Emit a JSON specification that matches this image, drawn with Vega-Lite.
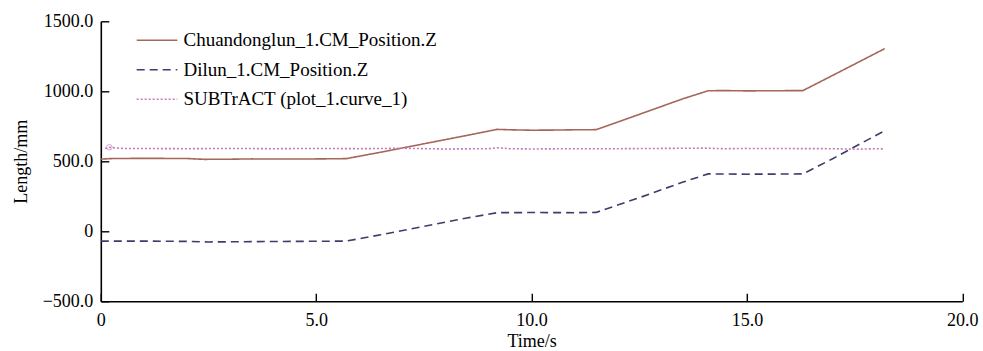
{
  "$schema": "https://vega.github.io/schema/vega-lite/v6.json",
  "autosize": {"type": "none"},
  "width": 861.5,
  "height": 280,
  "padding": {"left": 100.8, "top": 21.3, "right": 20.7, "bottom": 49.7},
  "background": "white",
  "config": {
    "view": {"stroke": null},
    "font": "Liberation Serif",
    "axis": {
      "domainColor": "black",
      "domainWidth": 1.6,
      "tickColor": "black",
      "tickWidth": 1.4,
      "grid": false,
      "labelFlush": false,
      "labelFont": "Liberation Serif",
      "labelFontSize": 18,
      "labelColor": "black",
      "titleFont": "Liberation Serif",
      "titleFontSize": 18,
      "titleFontWeight": "normal",
      "titleColor": "black"
    }
  },
  "datasets": {
    "curves": [
      {"series": "Chuandonglun_1.CM_Position.Z", "t": 0, "v": 516},
      {"series": "Chuandonglun_1.CM_Position.Z", "t": 0.3, "v": 520},
      {"series": "Chuandonglun_1.CM_Position.Z", "t": 1, "v": 521},
      {"series": "Chuandonglun_1.CM_Position.Z", "t": 2, "v": 520},
      {"series": "Chuandonglun_1.CM_Position.Z", "t": 2.4, "v": 514},
      {"series": "Chuandonglun_1.CM_Position.Z", "t": 3, "v": 515},
      {"series": "Chuandonglun_1.CM_Position.Z", "t": 3.5, "v": 517},
      {"series": "Chuandonglun_1.CM_Position.Z", "t": 4.5, "v": 516},
      {"series": "Chuandonglun_1.CM_Position.Z", "t": 5, "v": 517},
      {"series": "Chuandonglun_1.CM_Position.Z", "t": 5.7, "v": 519},
      {"series": "Chuandonglun_1.CM_Position.Z", "t": 6.5, "v": 565},
      {"series": "Chuandonglun_1.CM_Position.Z", "t": 7.5, "v": 625},
      {"series": "Chuandonglun_1.CM_Position.Z", "t": 8.5, "v": 685},
      {"series": "Chuandonglun_1.CM_Position.Z", "t": 9.2, "v": 728},
      {"series": "Chuandonglun_1.CM_Position.Z", "t": 9.5, "v": 725},
      {"series": "Chuandonglun_1.CM_Position.Z", "t": 10, "v": 722},
      {"series": "Chuandonglun_1.CM_Position.Z", "t": 10.5, "v": 723},
      {"series": "Chuandonglun_1.CM_Position.Z", "t": 11, "v": 725},
      {"series": "Chuandonglun_1.CM_Position.Z", "t": 11.5, "v": 726},
      {"series": "Chuandonglun_1.CM_Position.Z", "t": 12.5, "v": 835},
      {"series": "Chuandonglun_1.CM_Position.Z", "t": 13.5, "v": 945},
      {"series": "Chuandonglun_1.CM_Position.Z", "t": 14.1, "v": 1004},
      {"series": "Chuandonglun_1.CM_Position.Z", "t": 14.5, "v": 1005},
      {"series": "Chuandonglun_1.CM_Position.Z", "t": 15, "v": 1003},
      {"series": "Chuandonglun_1.CM_Position.Z", "t": 15.5, "v": 1004},
      {"series": "Chuandonglun_1.CM_Position.Z", "t": 16.3, "v": 1005},
      {"series": "Chuandonglun_1.CM_Position.Z", "t": 17, "v": 1115},
      {"series": "Chuandonglun_1.CM_Position.Z", "t": 17.6, "v": 1210},
      {"series": "Chuandonglun_1.CM_Position.Z", "t": 18.2, "v": 1305},
      {"series": "Dilun_1.CM_Position.Z", "t": 0, "v": -70},
      {"series": "Dilun_1.CM_Position.Z", "t": 1, "v": -70},
      {"series": "Dilun_1.CM_Position.Z", "t": 2, "v": -72},
      {"series": "Dilun_1.CM_Position.Z", "t": 2.5, "v": -76},
      {"series": "Dilun_1.CM_Position.Z", "t": 3.5, "v": -74},
      {"series": "Dilun_1.CM_Position.Z", "t": 4.5, "v": -72},
      {"series": "Dilun_1.CM_Position.Z", "t": 5.7, "v": -70},
      {"series": "Dilun_1.CM_Position.Z", "t": 6.5, "v": -25},
      {"series": "Dilun_1.CM_Position.Z", "t": 7.5, "v": 35},
      {"series": "Dilun_1.CM_Position.Z", "t": 8.5, "v": 95},
      {"series": "Dilun_1.CM_Position.Z", "t": 9.2, "v": 133},
      {"series": "Dilun_1.CM_Position.Z", "t": 10, "v": 134},
      {"series": "Dilun_1.CM_Position.Z", "t": 11, "v": 133},
      {"series": "Dilun_1.CM_Position.Z", "t": 11.5, "v": 135},
      {"series": "Dilun_1.CM_Position.Z", "t": 12.5, "v": 240},
      {"series": "Dilun_1.CM_Position.Z", "t": 13.5, "v": 350},
      {"series": "Dilun_1.CM_Position.Z", "t": 14.1, "v": 410},
      {"series": "Dilun_1.CM_Position.Z", "t": 15, "v": 408},
      {"series": "Dilun_1.CM_Position.Z", "t": 16, "v": 409},
      {"series": "Dilun_1.CM_Position.Z", "t": 16.3, "v": 410},
      {"series": "Dilun_1.CM_Position.Z", "t": 17, "v": 520},
      {"series": "Dilun_1.CM_Position.Z", "t": 17.6, "v": 620},
      {"series": "Dilun_1.CM_Position.Z", "t": 18.2, "v": 718},
      {"series": "SUBTrACT (plot_1.curve_1)", "t": 0.1, "v": 592},
      {"series": "SUBTrACT (plot_1.curve_1)", "t": 0.2, "v": 600},
      {"series": "SUBTrACT (plot_1.curve_1)", "t": 0.5, "v": 592},
      {"series": "SUBTrACT (plot_1.curve_1)", "t": 2, "v": 590},
      {"series": "SUBTrACT (plot_1.curve_1)", "t": 3, "v": 592},
      {"series": "SUBTrACT (plot_1.curve_1)", "t": 4, "v": 590},
      {"series": "SUBTrACT (plot_1.curve_1)", "t": 5, "v": 592},
      {"series": "SUBTrACT (plot_1.curve_1)", "t": 6, "v": 590},
      {"series": "SUBTrACT (plot_1.curve_1)", "t": 7, "v": 593},
      {"series": "SUBTrACT (plot_1.curve_1)", "t": 8, "v": 588},
      {"series": "SUBTrACT (plot_1.curve_1)", "t": 9, "v": 590},
      {"series": "SUBTrACT (plot_1.curve_1)", "t": 9.2, "v": 597},
      {"series": "SUBTrACT (plot_1.curve_1)", "t": 9.5, "v": 590},
      {"series": "SUBTrACT (plot_1.curve_1)", "t": 10, "v": 588},
      {"series": "SUBTrACT (plot_1.curve_1)", "t": 11, "v": 590},
      {"series": "SUBTrACT (plot_1.curve_1)", "t": 12, "v": 590},
      {"series": "SUBTrACT (plot_1.curve_1)", "t": 13, "v": 592},
      {"series": "SUBTrACT (plot_1.curve_1)", "t": 14, "v": 594},
      {"series": "SUBTrACT (plot_1.curve_1)", "t": 14.5, "v": 590},
      {"series": "SUBTrACT (plot_1.curve_1)", "t": 15, "v": 592},
      {"series": "SUBTrACT (plot_1.curve_1)", "t": 16, "v": 591},
      {"series": "SUBTrACT (plot_1.curve_1)", "t": 17, "v": 590},
      {"series": "SUBTrACT (plot_1.curve_1)", "t": 17.5, "v": 586},
      {"series": "SUBTrACT (plot_1.curve_1)", "t": 18, "v": 590},
      {"series": "SUBTrACT (plot_1.curve_1)", "t": 18.2, "v": 588}
    ]
  },
  "layer": [
    {
      "mark": {"type": "rule", "color": "#b0b0b0", "strokeWidth": 1.2},
      "encoding": {"y": {"datum": 0, "type": "quantitative", "scale": {"domain": [-500, 1500]}}}
    },
    {
      "mark": {"type": "rule", "color": "#c8c8c8", "strokeWidth": 1.5},
      "encoding": {"x": {"datum": 0.2, "type": "quantitative", "scale": {"domain": [0, 20]}}}
    },
    {
      "data": {"name": "curves"},
      "mark": {"type": "line", "strokeWidth": 1.6, "clip": true},
      "encoding": {
        "x": {
          "field": "t", "type": "quantitative",
          "scale": {"domain": [0, 20], "nice": false, "zero": false},
          "axis": {
            "title": "Time/s", "values": [0, 5, 10, 15, 20],
            "labelExpr": "datum.value == 0 ? '0' : format(datum.value, '.1f')",
            "tickSize": -8, "labelPadding": 18, "titlePadding": 3
          }
        },
        "y": {
          "field": "v", "type": "quantitative",
          "scale": {"domain": [-500, 1500], "nice": false, "zero": false},
          "axis": {
            "title": "Length/mm", "values": [-500, 0, 500, 1000, 1500],
            "labelExpr": "datum.value == 0 ? '0' : format(datum.value, '.1f')",
            "tickSize": -8, "labelPadding": 16, "titlePadding": 12
          }
        },
        "color": {
          "field": "series", "type": "nominal",
          "scale": {
            "domain": ["Chuandonglun_1.CM_Position.Z", "Dilun_1.CM_Position.Z", "SUBTrACT (plot_1.curve_1)"],
            "range": ["#a5665c", "#3d3d6b", "#c27ab8"]
          },
          "legend": {
            "title": null, "orient": "none", "legendX": 40.7, "legendY": 3.5,
            "padding": 0, "rowPadding": 3.5, "symbolType": "M-1.4,0H1.4",
            "symbolSize": 841, "symbolStrokeWidth": 1.6, "labelOffset": 11,
            "labelFont": "Liberation Serif", "labelFontSize": 19, "labelColor": "black",
            "labelLimit": 400
          }
        },
        "strokeDash": {
          "field": "series", "type": "nominal",
          "scale": {
            "domain": ["Chuandonglun_1.CM_Position.Z", "Dilun_1.CM_Position.Z", "SUBTrACT (plot_1.curve_1)"],
            "range": [[1, 0], [8, 5], [2, 2]]
          },
          "legend": {
            "title": null, "orient": "none", "legendX": 40.7, "legendY": 3.5,
            "padding": 0, "rowPadding": 3.5, "symbolType": "M-1.4,0H1.4",
            "symbolSize": 841, "symbolStrokeWidth": 1.6, "labelOffset": 11,
            "labelFont": "Liberation Serif", "labelFontSize": 19, "labelColor": "black",
            "labelLimit": 400
          }
        }
      }
    },
    {
      "data": {"name": "curves"},
      "transform": [{"filter": "datum.series == 'SUBTrACT (plot_1.curve_1)' && datum.t == 0.2"}],
      "mark": {"type": "point", "shape": "circle", "size": 30, "filled": false, "color": "#c27ab8", "strokeWidth": 1},
      "encoding": {
        "x": {"field": "t", "type": "quantitative"},
        "y": {"field": "v", "type": "quantitative"}
      }
    }
  ]
}
